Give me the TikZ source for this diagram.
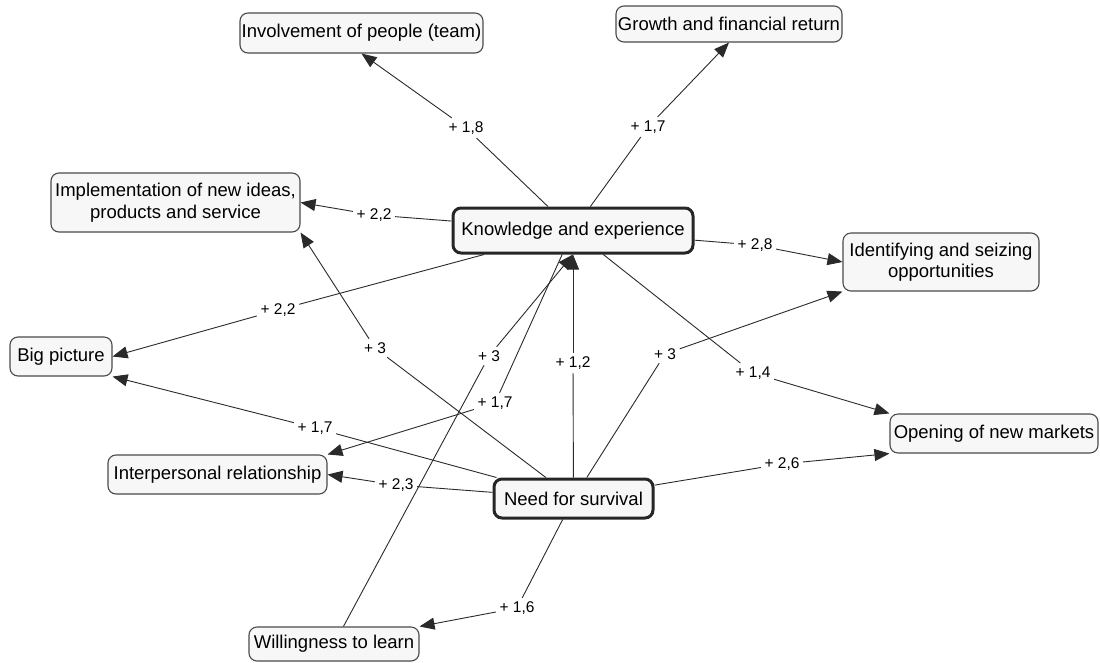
\documentclass[tikz,border=0pt]{standalone}
\usepackage{fontspec}
\setmainfont{Liberation Sans}
\usetikzlibrary{arrows.meta}
\definecolor{boxfill}{HTML}{F7F7F7}
\definecolor{boxline}{HTML}{4A4A4A}
\definecolor{edgecol}{HTML}{2A2A2A}
\begin{document}
\begin{tikzpicture}[x=1pt,y=-1pt,
  concept/.style={draw=boxline, line width=1.1pt, fill=boxfill, rounded corners=8pt, align=center, inner sep=0pt, font=\fontsize{18.5}{21.5}\selectfont},
  mainconcept/.style={concept, draw=black!85, line width=3pt},
  lbl/.style={inner sep=3.5pt, font=\fontsize{15.5}{18}\selectfont},
  conn/.style={draw=edgecol, line width=0.9pt},
  arr/.style={conn, -{Triangle[length=15pt,width=12pt]}}]
\useasboundingbox (0,0) rectangle (1100,662);
% concepts
\node[concept, minimum width=243pt, minimum height=40pt] (inv) at (361.5,33) {Involvement of people (team)};
\node[concept, minimum width=226pt, minimum height=36pt] (gro) at (729,24) {Growth and financial return};
\node[concept, minimum width=249pt, minimum height=59pt] (impl) at (175.5,202.5) {Implementation of new ideas,\\products and service};
\node[mainconcept, minimum width=240pt, minimum height=45pt] (know) at (573,230.5) {Knowledge and experience};
\node[concept, minimum width=196pt, minimum height=58pt] (ident) at (941,262) {Identifying and seizing\\opportunities};
\node[concept, minimum width=102pt, minimum height=39pt] (big) at (61,356.5) {Big picture};
\node[concept, minimum width=208pt, minimum height=39pt] (open) at (994,433.5) {Opening of new markets};
\node[concept, minimum width=219pt, minimum height=39pt] (inter) at (217.5,474.5) {Interpersonal relationship};
\node[mainconcept, minimum width=159pt, minimum height=39pt] (need) at (573.5,498.5) {Need for survival};
\node[concept, minimum width=170pt, minimum height=34pt] (will) at (334,644) {Willingness to learn};
% linking phrases
\node[lbl] (l1) at (466,128) {+ 1,8};
\node[lbl] (l2) at (648,127) {+ 1,7};
\node[lbl] (l3) at (374,215) {+ 2,2};
\node[lbl] (l4) at (755,245) {+ 2,8};
\node[lbl] (l5) at (278,310) {+ 2,2};
\node[lbl] (l6) at (753,373) {+ 1,4};
\node[lbl] (l7) at (573,363) {+ 1,2};
\node[lbl] (l8) at (375,348) {+ 3};
\node[lbl] (l9) at (315,428) {+ 1,7};
\node[lbl] (l10) at (396,485) {+ 2,3};
\node[lbl] (l11) at (495,403) {+ 1,7};
\node[lbl] (l12) at (665,354) {+ 3};
\node[lbl] (l13) at (782,464) {+ 2,6};
\node[lbl] (l14) at (517,608) {+ 1,6};
\node[lbl] (l15) at (489,356) {+ 3};
% connections
\draw[conn] (know) -- (l1); \draw[arr] (l1) -- (inv.south);
\draw[conn] (know) -- (l2); \draw[arr] (l2) -- (gro.south);
\draw[conn] (know) -- (l3); \draw[arr] (l3) -- (impl.east);
\draw[conn] (know) -- (l4); \draw[arr] (l4) -- (ident.west);
\draw[conn] (know) -- (l5); \draw[arr] (l5) -- (big.east);
\draw[conn] (know) -- (l6); \draw[arr] (l6) -- (open.north west);
\draw[conn] (need) -- (l7); \draw[arr] (l7) -- (know.south);
\draw[conn] (need) -- (l8); \draw[arr] (l8) -- (impl.south east);
\draw[conn] (need) -- (l9); \draw[arr] (l9) -- (big.south east);
\draw[conn] (need) -- (l10); \draw[arr] (l10) -- (inter.east);
\draw[conn] (know) -- (l11); \draw[arr] (l11) -- (inter.north east);
\draw[conn] (need) -- (l12); \draw[arr] (l12) -- (ident.south west);
\draw[conn] (need) -- (l13); \draw[arr] (l13) -- (open.south west);
\draw[conn] (need) -- (l14); \draw[arr] (l14) -- (will.north east);
\draw[conn] (will) -- (l15); \draw[arr] (l15) -- (know.south);
\end{tikzpicture}
\end{document}
